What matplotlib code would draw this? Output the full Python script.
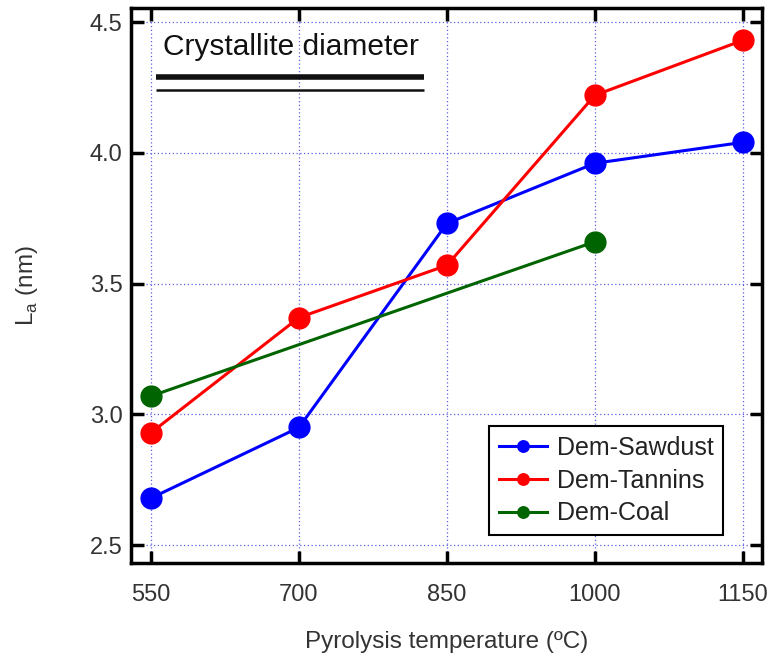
import numpy as np
import matplotlib.pyplot as plt

temps = [550, 700, 850, 1000, 1150]
sawdust = [2.68, 2.95, 3.73, 3.96, 4.04]
tannins = [2.93, 3.37, 3.57, 4.22, 4.43]
coal_temps = [550, 1000]
coal = [3.07, 3.66]

plt.rcParams['font.family'] = ['Liberation Sans', 'DejaVu Sans']

fig = plt.figure(figsize=(7.75, 6.58), dpi=100)
ax = fig.add_axes([0.169, 0.144, 0.814, 0.844])

ax.plot(temps, sawdust, '-o', color='#0000ff', lw=2.2, ms=15, label='Dem-Sawdust', zorder=3)
ax.plot(temps, tannins, '-o', color='#ff0000', lw=2.2, ms=15, label='Dem-Tannins', zorder=3)
ax.plot(coal_temps, coal, '-o', color='#006400', lw=2.2, ms=15, label='Dem-Coal', zorder=3)

ax.set_xlim(529.7, 1169.3)
ax.set_ylim(2.431, 4.554)
ax.set_xticks(temps)
ax.set_yticks([2.5, 3.0, 3.5, 4.0, 4.5])
ax.set_yticklabels(['2.5', '3.0', '3.5', '4.0', '4.5'])
ax.grid(True, color='#6060e0', ls=(0, (1, 2)), lw=0.9)

for s in ax.spines.values():
    s.set_linewidth(2.5)
ax.tick_params(direction='in', length=9, width=2.5, top=True, right=True,
               labelsize=17, colors='black', labelcolor='#333333')
ax.tick_params(axis='x', pad=15)
ax.tick_params(axis='y', pad=6)

ax.set_xlabel('Pyrolysis temperature (ºC)', fontsize=17.5, color='#333333', labelpad=18)
ax.set_ylabel('L$_\\mathregular{a}$ (nm)', fontsize=17.5, color='#333333', labelpad=36)

ax.text(0.05, 0.93, 'Crystallite diameter', transform=ax.transAxes, fontsize=21.5,
        color='#111111', va='center', ha='left')
ax.plot([0.04, 0.465], [0.875, 0.875], transform=ax.transAxes, color='#111111', lw=4,
        solid_capstyle='butt')
ax.plot([0.04, 0.465], [0.853, 0.853], transform=ax.transAxes, color='#111111', lw=1.8,
        solid_capstyle='butt')

leg = ax.legend(loc='lower right', bbox_to_anchor=(0.939, 0.05), fontsize=18,
                fancybox=False, framealpha=1, edgecolor='black', handlelength=1.9,
                handletextpad=0.4, borderpad=0.4, labelspacing=0.35, markerscale=0.55,
                borderaxespad=0)
leg.get_frame().set_linewidth(1.5)
for t in leg.get_texts():
    t.set_color('#222222')

fig.savefig('out.png', dpi=100)
